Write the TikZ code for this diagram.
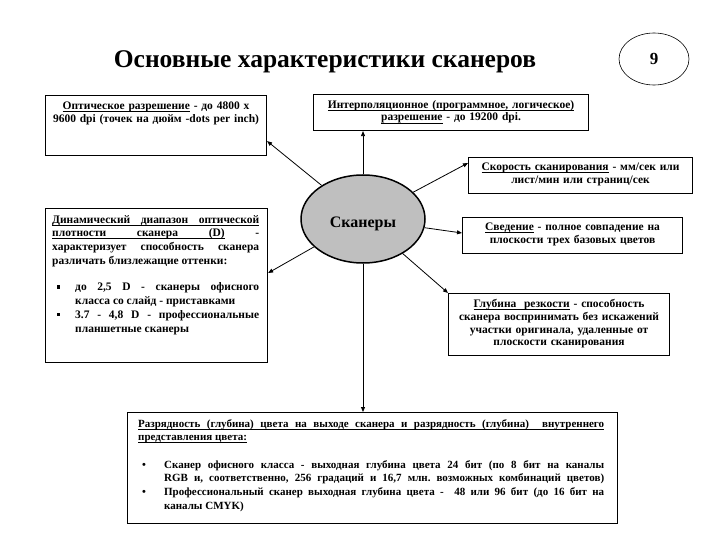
\documentclass[tikz,border=0pt]{standalone}
\usepackage{fontspec}
\setmainfont{Liberation Serif}
\usetikzlibrary{arrows.meta,shapes.geometric,calc}
\newcommand{\sqbul}{\rule[2.4pt]{3.2pt}{3.2pt}}
\newcommand{\ulr}{\vrule height -1.6pt depth 2.2pt}
\newcommand{\myul}[1]{\leavevmode\setbox0=\hbox{#1}\rlap{\ulr width\wd0}\box0\relax}
\newcommand{\js}{\hskip 0.25em plus 1fill minus 0.08em\relax}
\newcommand{\ujs}{\leaders\hrule height -1.6pt depth 2.2pt\hskip 0.25em plus 1fill minus 0.08em\relax}
\newcommand{\jl}[1]{\hbox to\linewidth{#1}}
\begin{document}
\begin{tikzpicture}[x=1pt,y=-1pt,
  box/.style={draw,line width=1.1pt,anchor=north west,inner sep=0pt},
  txt/.style={anchor=north,inner sep=0pt,font=\bfseries\fontsize{11.5}{12.8}\selectfont,align=center},
  conn/.style={line width=0.8pt,-{Triangle[length=5pt,width=4pt]}}]
\useasboundingbox (0,0) rectangle (720,540);
\node[font=\bfseries\fontsize{25.5}{30}\selectfont] (title) at (325,62) {Основные характеристики сканеров};
\node[ellipse,draw,line width=0.6pt,minimum width=70pt,minimum height=52pt,font=\bfseries\fontsize{17}{19}\selectfont] (pg) at (654,59) {9};

\node[box,minimum width=221pt,minimum height=60pt] (b1) at (45,95) {};
\node[txt,text width=218pt] (t1) at ($(b1.north)+(0,7)$) {\myul{Оптическое разрешение} - до 4800 х\\ 9600 dpi (точек на дюйм -dots per inch)};

\node[box,minimum width=275pt,minimum height=36pt] (b2) at (313,94) {};
\node[txt,text width=272pt] (t2) at ($(b2.north)+(0,6)$) {\myul{Интерполяционное (программное, логическое)}\\ \myul{разрешение} - до 19200 dpi.};

\node[box,minimum width=224pt,minimum height=36pt] (b3) at (468,157) {};
\node[txt,text width=222pt] (t3) at ($(b3.north)+(0,6)$) {\myul{Скорость сканирования} - мм/сек или\\ лист/мин или страниц/сек};

\node[box,minimum width=222pt,minimum height=154pt] (b4) at (45,208) {};
\node[anchor=north west,inner sep=0pt,font=\bfseries\fontsize{11.5}{13.7}\selectfont] (t4) at ($(b4.north west)+(7,7)$) {\begin{minipage}[t]{207pt}\setlength{\parindent}{0pt}\baselineskip=13.7pt%
\jl{\myul{Динамический}\ujs\myul{диапазон}\ujs\myul{оптической}}
\jl{\myul{плотности}\ujs\myul{сканера}\ujs\myul{(D)}\js-}
\jl{характеризует\js способность\js сканера}
\jl{различать близлежащие оттенки:\hfil}
\vspace{13pt}
\jl{\makebox[23pt][l]{\hspace{5pt}\sqbul}до\js 2,5\js D\js -\js сканеры\js офисного}
\jl{\hspace{23pt}класса со слайд - приставками\hfil}
\jl{\makebox[23pt][l]{\hspace{5pt}\sqbul}3.7\js -\js 4,8\js D\js -\js профессиональные}
\jl{\hspace{23pt}планшетные сканеры\hfil}
\end{minipage}};

\node[box,minimum width=220pt,minimum height=36pt] (b5) at (462,217) {};
\node[txt,text width=218pt] (t5) at ($(b5.north)+(0,6)$) {\myul{Сведение} - полное совпадение на\\ плоскости трех базовых цветов};

\node[box,minimum width=221pt,minimum height=62pt] (b6) at (448,293) {};
\node[txt,text width=219pt] (t6) at ($(b6.north)+(0,6)$) {\myul{Глубина\ \ резкости} - способность\\ сканера воспринимать без искажений\\ участки оригинала, удаленные от\\ плоскости сканирования};

\node[box,minimum width=490pt,minimum height=111pt] (b7) at (127,412) {};
\node[anchor=north west,inner sep=0pt,font=\bfseries\fontsize{11}{13.6}\selectfont] (t7) at ($(b7.north west)+(11,7)$) {\begin{minipage}[t]{466pt}\setlength{\parindent}{0pt}\baselineskip=13.6pt%
\jl{\myul{Разрядность}\ujs\myul{(глубина)}\ujs\myul{цвета}\ujs\myul{на}\ujs\myul{выходе}\ujs\myul{сканера}\ujs\myul{и}\ujs\myul{разрядность}\ujs\myul{(глубина)}\ujs\ujs\myul{внутреннего}}
\jl{\myul{представления цвета:}\hfil}
\vspace{14pt}
\jl{\makebox[26pt][l]{\hspace{4pt}\textbullet}Сканер\js офисного\js класса\js -\js выходная\js глубина\js цвета\js 24\js бит\js (по\js 8\js бит\js на\js каналы}
\jl{\hspace{26pt}RGB\js и,\js соответственно,\js 256\js градаций\js и\js 16,7\js млн.\js возможных\js комбинаций\js цветов)}
\jl{\makebox[26pt][l]{\hspace{4pt}\textbullet}Профессиональный\js сканер\js выходная\js глубина\js цвета\js -\js\js 48\js или\js 96\js бит\js (до\js 16\js бит\js на}
\jl{\hspace{26pt}каналы CMYK)\hfil}
\end{minipage}};

\node[ellipse,draw,line width=1.5pt,fill=black!25,minimum width=124pt,minimum height=88pt] (e) at (363,219) {};
\node[anchor=base,inner sep=0pt,font=\bfseries\fontsize{16}{18}\selectfont] (et) at (363,227.5) {Сканеры};

\draw[conn] (e.north) -- (e.north |- b2.south);
\draw[conn] (e) -- ($(b1.south east)+(0,-15)$);
\draw[conn] (e) -- ($(b3.north west)+(0,6)$);
\draw[conn] (e) -- ($(b5.north west)+(0,16)$);
\draw[conn] (e) -- ($(b4.north east)+(0,65)$);
\draw[conn] (e) -- (b6.north west);
\draw[conn] (e.south) -- (e.south |- b7.north);
\end{tikzpicture}
\end{document}
